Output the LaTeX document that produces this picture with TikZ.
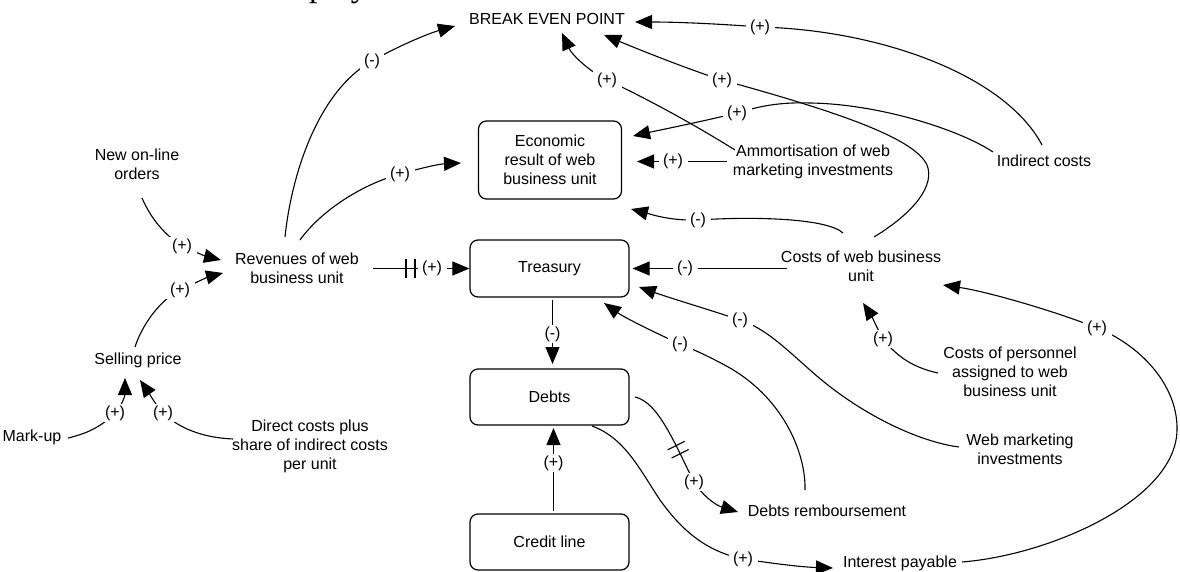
\documentclass[tikz,border=0pt]{standalone}
\usepackage{fontspec}
\setmainfont{Liberation Sans}
\newfontfamily\headserif{Liberation Serif}
\usetikzlibrary{arrows.meta,decorations.markings}

\begin{document}
\begin{tikzpicture}[x=1pt,y=-1pt,
  every node/.style={font=\fontsize{16pt}{19pt}\selectfont},
  txt/.style={align=center, inner sep=0pt},
  box/.style={draw, line width=1.2pt, rounded corners=8pt, minimum width=159pt,
              minimum height=57pt, align=center, inner sep=0pt},
  lbl/.style={fill=white, inner xsep=4.5pt, inner ysep=2pt},
  link/.style={line width=1.1pt, -{Triangle[length=17pt,width=14pt]}},
  delay/.style={postaction={decorate}, decoration={markings,
      mark=at position #1 with {\draw[-, line width=1.1pt] (-4.5,-9.5) -- (-4.5,9.5) (4.5,-9.5) -- (4.5,9.5);}}}
]
\useasboundingbox (0,0) rectangle (1180,572);

% heading line above the diagram, cut by the frame
\begin{scope}
  \clip (0,0) rectangle (1180,572);
  \node[anchor=base west, inner sep=0pt, font=\headserif\fontsize{34pt}{40pt}\selectfont] (hdr) at (309,-3.5) {play};
\end{scope}

% stocks
\node[box, minimum width=143pt, minimum height=78pt] (eco) at (550,160) {Economic\\result of web\\business unit};
\node[box] (trea) at (549.5,268.5) {Treasury};
\node[box, minimum height=56pt] (debts) at (549.5,397) {Debts};
\node[box, minimum height=56pt] (credit) at (549.5,542) {Credit line};

% variables
\node[txt] (bep) at (547,19) {BREAK EVEN POINT};
\node[txt] (orders) at (137,164) {New on-line\\orders};
\node[txt] (rev) at (297,268) {Revenues of web\\business unit};
\node[txt] (sell) at (138,360) {Selling price};
\node[txt] (markup) at (32,437) {Mark-up};
\node[txt] (direct) at (310,446) {Direct costs plus\\share of indirect costs\\per unit};
\node[txt] (amm) at (813,162) {Ammortisation of web\\marketing investments};
\node[txt] (indir) at (1044,161) {Indirect costs};
\node[txt] (costs) at (861,266) {Costs of web business\\unit};
\node[txt] (pers) at (1010,372) {Costs of personnel\\assigned to web\\business unit};
\node[txt] (webinv) at (1020,449) {Web marketing\\investments};
\node[txt] (rimb) at (827,511) {Debts remboursement};
\node[txt] (inter) at (900,563) {Interest payable};

% causal links
\draw[link] ([shift={(-12,-31)}]rev.center) .. controls (292,170) and (320,90) .. (372,61) node[lbl] (s1) {(-)}
  .. controls (400,45) and (430,33) .. ([shift={(-92,7)}]bep.center);
\draw[link] ([shift={(3,-28)}]rev.center) .. controls (320,212) and (360,185) .. (400,174) node[lbl] (s2) {(+)}
  .. controls (425,167) and (440,164) .. ([shift={(-89,3)}]eco.center);
\draw[link] ([shift={(5,34)}]orders.center) .. controls (148,212) and (160,232) .. (182,246) node[lbl] (s3) {(+)}
  .. controls (195,252) and (205,256) .. ([shift={(-76,-8)}]rev.center);
\draw[link] ([shift={(-3,-13)}]sell.center) .. controls (142,325) and (160,300) .. (180,290) node[lbl] (s4) {(+)}
  .. controls (195,283) and (208,277) .. ([shift={(-74,5)}]rev.center);
\draw[link] ([shift={(36,1)}]markup.center) .. controls (85,434) and (100,428) .. (115,413) node[lbl] (s5) {(+)}
  .. controls (122,406) and (125,395) .. ([shift={(-13,18)}]sell.center);
\draw[link] ([shift={(-77,-7)}]direct.center) .. controls (210,438) and (183,432) .. (163,413) node[lbl] (s6) {(+)}
  .. controls (155,404) and (149,393) .. ([shift={(2,20)}]sell.center);
\draw[link, delay=37.5pt] ([shift={(76,0.5)}]rev.center) -- (432,268.5) node[lbl] (s7) {(+)} -- (trea.west);
\draw[link] ([shift={(-74,2.5)}]costs.center) -- (685,268.5) node[lbl] (s8) {(-)} -- ([shift={(3,0)}]trea.east);
\draw[link] ([shift={(-18,-33)}]costs.center) .. controls (828,219) and (760,216) .. (698,220) node[lbl] (s9) {(-)}
  .. controls (670,221) and (650,214) .. ([shift={(81,49)}]eco.center);
\draw[link] ([shift={(-86,-0.5)}]amm.center) -- (673,161.5) node[lbl] (s10) {(+)} -- ([shift={(87,1.5)}]eco.center);
\draw[link] ([shift={(-51,-9)}]indir.center) .. controls (960,130) and (880,104) .. (810,103)
  .. controls (780,102) and (760,106) .. (737,113) node[lbl] (s11) {(+)}
  .. controls (700,122) and (660,130) .. ([shift={(83,-24)}]eco.center);
\draw[link] ([shift={(13,-29)}]costs.center) .. controls (915,212) and (935,185) .. (927,165)
  .. controls (915,140) and (850,115) .. (722,80) node[lbl] (s12) {(+)}
  .. controls (690,70) and (640,50) .. ([shift={(57,16)}]bep.center);
\draw[link] ([shift={(-2,-16)}]indir.center) .. controls (1005,75) and (880,30) .. (760,27) node[lbl] (s13) {(+)}
  .. controls (720,24) and (680,22) .. ([shift={(88,3)}]bep.center);
\draw[link] ([shift={(-78,-12)}]amm.center) .. controls (700,128) and (650,100) .. (607,80) node[lbl] (s14) {(+)}
  .. controls (590,72) and (572,55) .. ([shift={(15,14)}]bep.center);
\draw[link] ([shift={(-61,-2)}]webinv.center) .. controls (920,442) and (860,415) .. (810,370)
  .. controls (785,348) and (765,328) .. (740,320) node[lbl] (s15) {(-)}
  .. controls (710,310) and (670,298) .. ([shift={(89.5,18.5)}]trea.center);
\draw[link] ([shift={(-22,-21)}]rimb.center) .. controls (806,455) and (785,400) .. (730,368)
  .. controls (712,358) and (695,350) .. (680,344) node[lbl] (s16) {(-)}
  .. controls (660,335) and (625,318) .. ([shift={(54.5,34.5)}]trea.center);
\draw[link, delay=70pt] ([shift={(85.5,0)}]debts.center) .. controls (658,402) and (674,442) .. (694,482) node[lbl] (s17) {(+)}
  .. controls (702,495) and (715,505) .. ([shift={(-89,1)}]rimb.center);
\draw[link] ([shift={(42.5,29)}]debts.center) .. controls (625,438) and (640,470) .. (660,500)
  .. controls (685,535) and (710,552) .. (743,559) node[lbl] (s18) {(+)}
  .. controls (770,563) and (800,567) .. ([shift={(-67,5)}]inter.center);
\draw[link] ([shift={(62,-1)}]inter.center) .. controls (1050,555) and (1176,500) .. (1177,430)
  .. controls (1178,385) and (1140,345) .. (1097,328) node[lbl] (s19) {(+)}
  .. controls (1060,313) and (990,292) .. ([shift={(82,19)}]costs.center);
\draw[link] ([shift={(-72,1)}]pers.center) .. controls (915,368) and (898,358) .. (883,339) node[lbl] (s20) {(+)}
  .. controls (877,328) and (871,315) .. ([shift={(2,37)}]costs.center);
\draw[link] ([shift={(3,31.5)}]trea.center) -- (552.5,334) node[lbl] (s21) {(-)} -- ([shift={(3,-33)}]debts.center);
\draw[link] ([shift={(4,-31)}]credit.center) -- (553.5,463) node[lbl] (s22) {(+)} -- ([shift={(4,31)}]debts.center);
\end{tikzpicture}
\end{document}
